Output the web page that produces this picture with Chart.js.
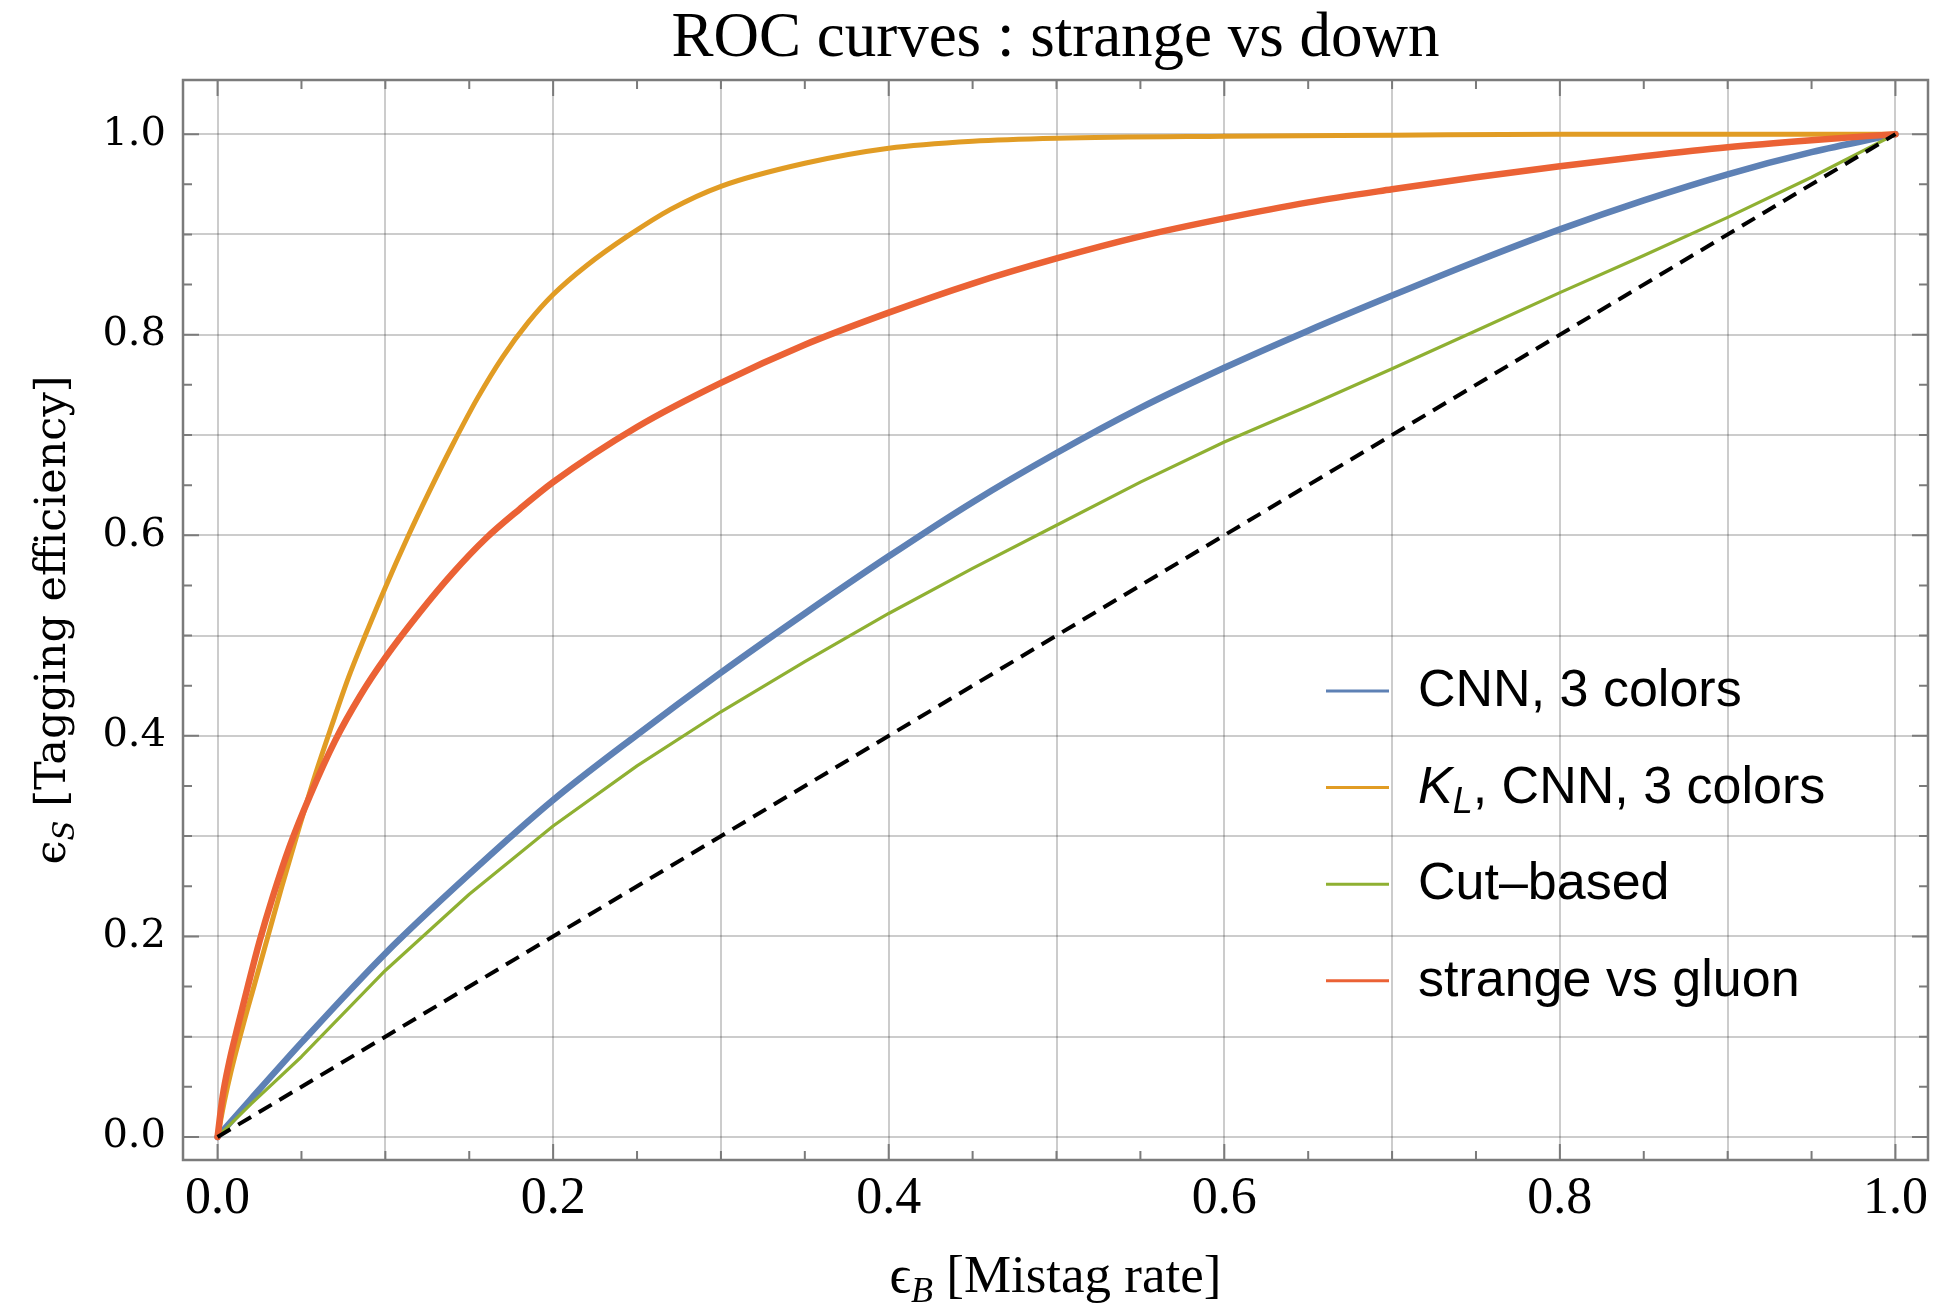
<!DOCTYPE html>
<html>
<head>
<meta charset="utf-8">
<title>ROC curves : strange vs down</title>
<script src="https://cdn.jsdelivr.net/npm/chart.js@4.4.1/dist/chart.umd.min.js"></script>
<style>
  html, body { margin: 0; padding: 0; background: #fff; }
  #wrap { width: 1934px; height: 1310px; position: relative; }
</style>
</head>
<body>
<div id="wrap"><canvas id="roc"></canvas></div>
<script>
// ── 資料：背景誤標率 εB 與訊號效率 εS ─────────────────────
const cnnEB = [0, 0.02, 0.05, 0.1, 0.15, 0.2, 0.25, 0.3, 0.35, 0.4, 0.45, 0.5, 0.55, 0.6, 0.65, 0.7, 0.75, 0.8, 0.85, 0.9, 0.95, 1.0];
const cnnES = [0, 0.038, 0.094, 0.183, 0.262, 0.336, 0.401, 0.463, 0.522, 0.579, 0.633, 0.682, 0.727, 0.767, 0.804, 0.839, 0.873, 0.905, 0.934, 0.960, 0.982, 1.0];

const klEB = [0, 0.004, 0.008, 0.015, 0.022, 0.03, 0.038, 0.048, 0.058, 0.068, 0.078, 0.088, 0.1, 0.113, 0.126, 0.14, 0.155, 0.17, 0.185, 0.2, 0.22, 0.245, 0.27, 0.3, 0.35, 0.4, 0.45, 0.5, 0.6, 0.7, 0.8, 0.9, 1.0];
const klES = [0, 0.035, 0.065, 0.11, 0.152, 0.2, 0.248, 0.305, 0.36, 0.41, 0.458, 0.5, 0.548, 0.597, 0.643, 0.69, 0.737, 0.778, 0.812, 0.84, 0.869, 0.899, 0.925, 0.948, 0.971, 0.986, 0.993, 0.996, 0.998, 0.999, 1.0, 1.0, 1.0];

const cutEB = [0, 0.02, 0.05, 0.1, 0.15, 0.2, 0.25, 0.3, 0.35, 0.4, 0.45, 0.5, 0.55, 0.6, 0.65, 0.7, 0.75, 0.8, 0.85, 0.9, 0.95, 1.0];
const cutES = [0, 0.033, 0.08, 0.166, 0.242, 0.31, 0.37, 0.424, 0.474, 0.522, 0.567, 0.61, 0.653, 0.693, 0.729, 0.766, 0.804, 0.842, 0.879, 0.917, 0.957, 1.0];

const gluonEB = [0, 0.003, 0.007, 0.012, 0.018, 0.025, 0.033, 0.043, 0.055, 0.07, 0.085, 0.1, 0.12, 0.14, 0.16, 0.18, 0.2, 0.25, 0.3, 0.35, 0.4, 0.45, 0.5, 0.55, 0.6, 0.65, 0.7, 0.75, 0.8, 0.85, 0.9, 0.95, 1.0];
const gluonES = [0, 0.04, 0.075, 0.11, 0.15, 0.195, 0.24, 0.29, 0.34, 0.395, 0.44, 0.478, 0.522, 0.562, 0.597, 0.626, 0.653, 0.708, 0.752, 0.79, 0.822, 0.851, 0.876, 0.898, 0.916, 0.932, 0.945, 0.957, 0.968, 0.978, 0.987, 0.994, 1.0];

// 隨機猜測的對角線
const randEB = [0, 1];
const randES = [0, 1];

const tickValues = [0, 0.2, 0.4, 0.6, 0.8, 1.0];
const tickLabels = ['0.0', '0.2', '0.4', '0.6', '0.8', '1.0'];

// 圖例文字（K_L 需要斜體＋下標）
const legendLabels = [
  [{ t: 'CNN, 3 colors' }],
  [{ t: 'K', it: true }, { t: 'L', it: true, sub: true }, { t: ', CNN, 3 colors' }],
  [{ t: 'Cut\u2013based' }],
  [{ t: 'strange vs gluon' }]
];

// ── 樣式 ────────────────────────────────────────────────
const COLORS = { cnn: '#5e81b5', kl: '#e19c24', cut: '#8fb032', gluon: '#eb6235' };
const SERIF = '"Liberation Serif", "DejaVu Serif", serif';
const WIDE_SERIF = '"DejaVu Serif", serif';
const SANS = '"Liberation Sans", Arial, sans-serif';
const FRAME_COLOR = '#7b7b7b';

const pts = (xs, ys) => xs.map((x, i) => ({ x, y: ys[i] }));

function tickLabel(v) {
  const i = tickValues.findIndex(t => Math.abs(t - v) < 1e-6);
  return i >= 0 ? tickLabels[i] : '';
}

// 依序繪製多段文字（支援斜體與下標）
function drawRich(ctx, parts, x, y, align) {
  let total = 0;
  parts.forEach(p => { ctx.font = p.font; p.w = ctx.measureText(p.t).width; total += p.w; });
  let cx = align === 'center' ? x - total / 2 : x;
  parts.forEach(p => {
    ctx.font = p.font;
    ctx.fillText(p.t, cx, y + (p.dy || 0));
    cx += p.w;
  });
}

// ── 外框、刻度、軸標題與圖例 ────────────────────────────
const framePlugin = {
  id: 'frameDecor',
  afterDatasetsDraw(chart) {
    const { ctx, chartArea: a, scales } = chart;
    const xs = scales.x, ys = scales.y;
    ctx.save();

    // 外框
    ctx.strokeStyle = FRAME_COLOR;
    ctx.lineWidth = 2.5;
    ctx.strokeRect(a.left, a.top, a.right - a.left, a.bottom - a.top);

    // 向內的刻度：每 0.05 一格，0.2 倍數較長
    ctx.lineWidth = 2;
    ctx.beginPath();
    for (let i = 0; i <= 20; i++) {
      const v = i / 20;
      const len = i % 4 === 0 ? 16 : 9;
      const px = xs.getPixelForValue(v);
      const py = ys.getPixelForValue(v);
      ctx.moveTo(px, a.bottom); ctx.lineTo(px, a.bottom - len);
      ctx.moveTo(px, a.top);    ctx.lineTo(px, a.top + len);
      ctx.moveTo(a.left, py);   ctx.lineTo(a.left + len, py);
      ctx.moveTo(a.right, py);  ctx.lineTo(a.right - len, py);
    }
    ctx.stroke();

    ctx.fillStyle = '#000';
    ctx.textBaseline = 'alphabetic';

    // x 軸標題
    const cxm = (a.left + a.right) / 2;
    drawRich(ctx, [
      { t: '\u03f5', font: '53px ' + SERIF },
      { t: 'B', font: 'italic 36px ' + SERIF, dy: 10 },
      { t: ' [Mistag rate]', font: '53px ' + SERIF }
    ], cxm, 1292, 'center');

    // y 軸標題（旋轉）
    ctx.save();
    ctx.translate(54, (a.top + a.bottom) / 2);
    ctx.rotate(-Math.PI / 2);
    drawRich(ctx, [
      { t: '\u03f5', font: '43px ' + WIDE_SERIF },
      { t: 'S', font: 'italic 29px ' + WIDE_SERIF, dy: 9 },
      { t: ' [Tagging efficiency]', font: '43px ' + WIDE_SERIF }
    ], 0, 11, 'center');
    ctx.restore();

    // 圖例
    const legendSets = chart.data.datasets.filter(d => d.inLegend);
    const rowY0 = 691, rowGap = 96.6;
    const lineX0 = a.left + 1143, lineX1 = a.left + 1206, textX = a.left + 1235;
    legendSets.forEach((ds, k) => {
      const y = rowY0 + k * rowGap;
      ctx.strokeStyle = ds.borderColor;
      ctx.lineWidth = 3;
      ctx.setLineDash([]);
      ctx.beginPath();
      ctx.moveTo(lineX0, y); ctx.lineTo(lineX1, y);
      ctx.stroke();
      const parts = legendLabels[k].map(p => ({
        t: p.t,
        font: (p.it ? 'italic ' : '') + (p.sub ? '36px ' : '52px ') + SANS,
        dy: p.sub ? 10 : 0
      }));
      drawRich(ctx, parts, textX, y + 15, 'left');
    });

    ctx.restore();
  }
};

// ── 建立圖表 ─────────────────────────────────────────────
const lineBase = { pointRadius: 0, pointHoverRadius: 0, fill: false, borderCapStyle: 'round', borderJoinStyle: 'round' };

new Chart(document.getElementById('roc'), {
  type: 'line',
  data: {
    datasets: [
      Object.assign({}, lineBase, {
        label: 'random', data: pts(randEB, randES), borderColor: '#000',
        borderWidth: 4, borderDash: [15, 9], borderCapStyle: 'butt', order: 0
      }),
      Object.assign({}, lineBase, {
        label: 'CNN, 3 colors', data: pts(cnnEB, cnnES), borderColor: COLORS.cnn,
        borderWidth: 6.5, cubicInterpolationMode: 'monotone', order: 4, inLegend: true
      }),
      Object.assign({}, lineBase, {
        label: 'K_L, CNN, 3 colors', data: pts(klEB, klES), borderColor: COLORS.kl,
        borderWidth: 5, cubicInterpolationMode: 'monotone', order: 3, inLegend: true
      }),
      Object.assign({}, lineBase, {
        label: 'Cut\u2013based', data: pts(cutEB, cutES), borderColor: COLORS.cut,
        borderWidth: 3.2, tension: 0, order: 2, inLegend: true
      }),
      Object.assign({}, lineBase, {
        label: 'strange vs gluon', data: pts(gluonEB, gluonES), borderColor: COLORS.gluon,
        borderWidth: 6.5, cubicInterpolationMode: 'monotone', order: 1, inLegend: true
      })
    ]
  },
  options: {
    responsive: true,
    maintainAspectRatio: false,
    animation: false,
    events: [],
    layout: { padding: { left: 0, right: 6, top: 0, bottom: 0 } },
    plugins: {
      legend: { display: false },
      tooltip: { enabled: false },
      title: {
        display: true,
        text: 'ROC curves : strange vs down',
        fullSize: false,
        color: '#000',
        font: { family: SERIF, size: 63, weight: 'normal', lineHeight: 1.2 },
        padding: { top: 2, bottom: 2.4 }
      }
    },
    scales: {
      x: {
        type: 'linear',
        min: -0.0206,
        max: 1.0194,
        border: { display: false },
        grid: { color: 'rgba(0,0,0,0.2)', lineWidth: 2, drawTicks: false },
        ticks: {
          stepSize: 0.1,
          includeBounds: false,
          autoSkip: false,
          maxRotation: 0,
          padding: 8,
          color: '#000',
          font: { family: SERIF, size: 52 },
          callback: tickLabel
        },
        afterFit(s) { s.height = 150; s.paddingLeft = 0; s.paddingRight = 0; }
      },
      y: {
        type: 'linear',
        min: -0.023,
        max: 1.054,
        border: { display: false },
        grid: { color: 'rgba(0,0,0,0.2)', lineWidth: 2, drawTicks: false },
        ticks: {
          stepSize: 0.1,
          includeBounds: false,
          autoSkip: false,
          padding: 17,
          color: '#000',
          font: { family: WIDE_SERIF, size: 40 },
          callback: tickLabel
        },
        afterFit(s) { s.width = 183; s.paddingTop = 0; s.paddingBottom = 0; }
      }
    }
  },
  plugins: [framePlugin]
});
</script>
</body>
</html>
